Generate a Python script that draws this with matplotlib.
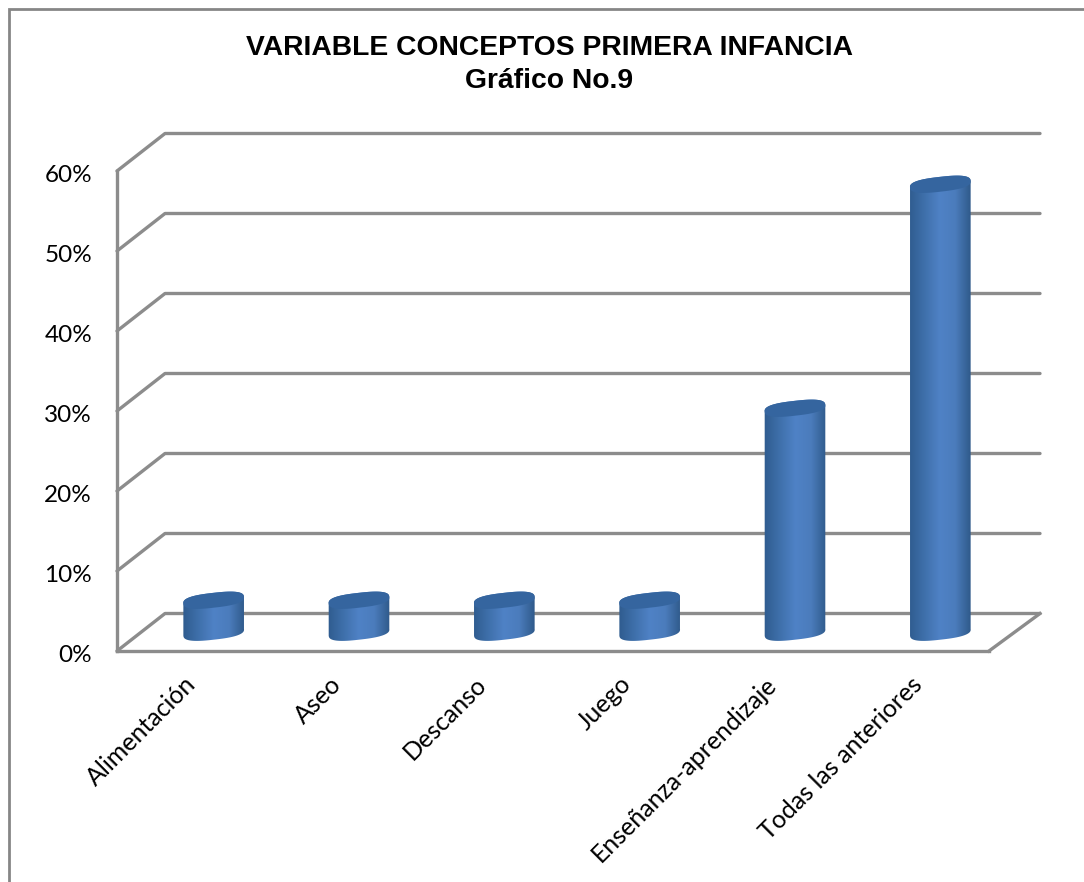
import numpy as np
import matplotlib
matplotlib.use('Agg')
import matplotlib.pyplot as plt
from matplotlib.colors import LinearSegmentedColormap
from matplotlib.patches import Polygon, Rectangle
from matplotlib.transforms import ScaledTranslation

categories = ['Alimentación', 'Aseo', 'Descanso', 'Juego', 'Enseñanza-aprendizaje', 'Todas las anteriores']
values = [4, 4, 4, 4, 28, 56]
yticks = [0, 10, 20, 30, 40, 50, 60]

W, H = 1084, 882
GRAY = '#8c8c8c'
# size of one pixel in data units
PX = 6 / 872
PY = 60 / 480
DEPTH_X = 48 * PX
DEPTH_Y = 37.5 * PY

fig = plt.figure(figsize=(W / 100, H / 100), dpi=100)
fig.patches.append(Rectangle((9 / W, -0.1), 1.1, 1.1 - 9 / H, transform=fig.transFigure,
                             fill=False, edgecolor='#868686', linewidth=2))
fig.text(549 / W, 1 - 48 / H, 'VARIABLE CONCEPTOS PRIMERA INFANCIA', ha='center', va='center',
         fontsize=20.3, fontweight='bold', family='Liberation Sans')
fig.text(549 / W, 1 - 81 / H, 'Gráfico No.9', ha='center', va='center',
         fontsize=20.3, fontweight='bold', family='Liberation Sans')

ax = fig.add_axes([117 / W, 1 - 651 / H, 872 / W, 480 / H])
ax.patch.set_alpha(0)

# back wall and side wall
for v in yticks:
    ax.plot([0, DEPTH_X, 6 + 51 * PX], [v, v + DEPTH_Y, v + DEPTH_Y], color=GRAY, lw=2.4,
            clip_on=False, zorder=1, solid_capstyle='round')
# floor edge on the right
ax.plot([6, 6 + 51 * PX], [0, DEPTH_Y], color=GRAY, lw=2.4, clip_on=False, zorder=1)

cmap = LinearSegmentedColormap.from_list('cyl', ['#2f5c8f', '#3f70ab', '#4f82c6', '#4b7cbc', '#2f5a8a'])
theta = np.radians(6.5)
a, b = 30.5, 7.4


def ellipse(cx, cy, t):
    # slightly squared ellipse, the real caps are rounder at the sides
    c = np.sign(np.cos(t)) * np.abs(np.cos(t)) ** 0.75
    s = np.sign(np.sin(t)) * np.abs(np.sin(t)) ** 0.75
    x = a * c * np.cos(theta) - b * s * np.sin(theta)
    y = a * c * np.sin(theta) + b * s * np.cos(theta)
    return np.column_stack([cx + x * PX, cy + y * PY])


for i, v in enumerate(values):
    cx = i + 0.5 + DEPTH_X / 2
    cy = DEPTH_Y / 2
    low = ellipse(cx, cy, np.linspace(np.pi, 2 * np.pi, 50))
    top = ellipse(cx, cy + v, np.linspace(0, np.pi, 50))
    body = Polygon(np.vstack([low, top]), closed=True, transform=ax.transData, fill=False, edgecolor='none')
    ax.add_patch(body)
    im = ax.imshow(np.linspace(0, 1, 128).reshape(1, -1), cmap=cmap, aspect='auto', zorder=3,
                   extent=[cx - 31 * PX, cx + 31 * PX, 0, cy + v + 10 * PY], clip_on=True)
    im.set_clip_path(body)
    ax.add_patch(Polygon(ellipse(cx, cy + v, np.linspace(0, 2 * np.pi, 80)), closed=True,
                         facecolor='#35659f', edgecolor='none', zorder=4, clip_on=False))

ax.set_xlim(0, 6)
ax.set_ylim(0, 60)
ax.set_yticks(yticks)
ax.set_yticklabels([f'{v}%' for v in yticks], fontsize=17.5, family='Lato')
ax.set_xticks(np.arange(6) + 0.5)
ax.set_xticklabels(categories, fontsize=18, family='Lato', rotation=45, ha='right', va='top',
                   rotation_mode='anchor')
ax.tick_params(length=0)
ax.tick_params(axis='y', pad=18)
ax.tick_params(axis='x', pad=14)
for lab in ax.get_xticklabels():
    lab.set_transform(lab.get_transform() + ScaledTranslation(-6 / 100, -2 / 100, fig.dpi_scale_trans))
for lab in ax.get_yticklabels():
    lab.set_transform(lab.get_transform() + ScaledTranslation(0, -3 / 100, fig.dpi_scale_trans))
for side in ['top', 'right']:
    ax.spines[side].set_visible(False)
for side in ['left', 'bottom']:
    ax.spines[side].set_color(GRAY)
    ax.spines[side].set_linewidth(2.4)

fig.savefig('out.png', dpi=100)
